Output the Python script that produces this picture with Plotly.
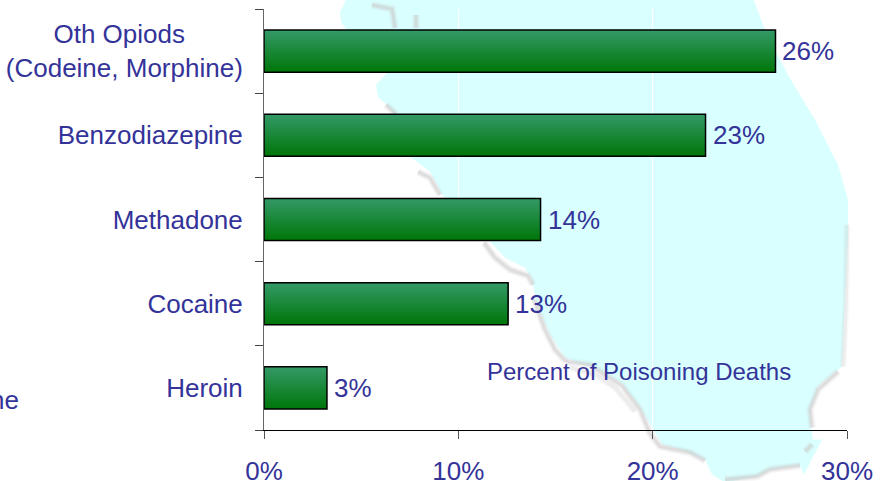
import plotly.graph_objects as go

categories = ["Heroin", "Cocaine", "Methadone", "Benzodiazepine",
              "Oth Opiods" + "\u00a0" * 8 + "<br>(Codeine, Morphine)"]
values = [3.24, 12.56, 14.23, 22.72, 26.32]
value_labels = ["3%", "13%", "14%", "23%", "26%"]
x_ticks = [0, 10, 20, 30]
x_tick_labels = ["0%", "10%", "20%", "30%"]

W, H = 885, 481
L, R, T, B = 264, 847, 9, 430.5
TEXT = "#333399"
FONT = "Liberation Sans, Arial, sans-serif"


def px(x):
    return (x - L) / (R - L)


def py(y):
    return (B - y) / (B - T)


def path(points, close=False):
    s = "M " + " L ".join(f"{px(x):.4f},{py(y):.4f}" for x, y in points)
    return s + (" Z" if close else "")


land = [(347, -2), (340, 12), (341, 22), (346, 29), (372, 60), (387, 73), (376, 85), (378, 97), (386, 104),
        (398, 120), (410, 157), (430, 172), (442, 195), (470, 228), (490, 242), (505, 258), (525, 268),
        (531, 278), (537, 305), (550, 335), (565, 358), (580, 364), (600, 371), (622, 384), (640, 408),
        (652, 428), (662, 445), (680, 450), (705, 460), (712, 475), (725, 483), (757, 477), (770, 470),
        (800, 466), (804, 475), (822, 440), (813, 440), (811, 427), (810, 410), (818, 387), (842, 367),
        (845, 300), (848, 240), (848, 200), (838, 165), (815, 120), (788, 75), (765, 30), (753, -2)]

coasts = [
    [(372, 5), (392, 9), (395, 28)],
    [(416, 15), (416, 28)],
    [(386, 105), (396, 114)],
    [(418, 172), (430, 178), (440, 195)],
    [(484, 243), (495, 258), (510, 270), (528, 276), (533, 285)],
    [(534, 300), (545, 330), (555, 350), (566, 362)],
    [(566, 362), (590, 365), (603, 374), (622, 386), (640, 410), (650, 434), (660, 447), (690, 453), (705, 461)],
    [(725, 480), (757, 477), (770, 470), (800, 466)],
    [(805, 452), (812, 445)],
    [(838, 372), (818, 390), (810, 410), (812, 428)],
]
faint_coasts = [
    [(847, 225), (846, 300), (843, 367)],
    [(570, 368), (595, 375), (615, 388), (635, 412)],
]

shapes = [dict(type="path", xref="paper", yref="paper", path=path(land, True),
               fillcolor="#d9ffff", line=dict(width=0), layer="below")]
for c in faint_coasts:
    for w, col in ((7, "rgba(205,202,202,0.12)"), (4, "rgba(205,202,202,0.25)")):
        shapes.append(dict(type="path", xref="paper", yref="paper", path=path(c),
                           line=dict(color=col, width=w), layer="below"))
for c in coasts:
    for w, col in ((8, "rgba(205,202,202,0.14)"), (5.5, "rgba(205,202,202,0.22)"), (3, "rgba(205,202,202,0.45)")):
        shapes.append(dict(type="path", xref="paper", yref="paper", path=path(c),
                           line=dict(color=col, width=w), layer="below"))

fig = go.Figure()
bar_w = 0.5
n = 21
h = bar_w / n
top, bottom = (0x33, 0x99, 0x66), (0x00, 0x77, 0x0a)
for i in range(n):
    t = i / (n - 1)
    col = tuple(round(bottom[k] + (top[k] - bottom[k]) * t) for k in range(3))
    fig.add_trace(go.Bar(y=categories, x=values, orientation="h",
                         width=bar_w - i * h, offset=-bar_w / 2 + i * h,
                         marker=dict(color=f"rgb{col}", line=dict(width=0)),
                         hoverinfo="skip", showlegend=False))

fig.add_trace(go.Bar(y=categories, x=values, orientation="h", width=bar_w, offset=-bar_w / 2,
                     marker=dict(color="rgba(0,0,0,0)", line=dict(color="#000000", width=1.5)),
                     showlegend=False))

annotations = [
    dict(text="Percent of Poisoning Deaths", xref="paper", yref="paper", x=px(638.5), y=py(372),
         xanchor="center", yanchor="middle", showarrow=False, font=dict(size=24, color=TEXT, family=FONT)),
    dict(text="ne", xref="paper", yref="paper", x=px(-12), y=py(400),
         xanchor="left", yanchor="middle", showarrow=False, font=dict(size=26, color=TEXT, family=FONT)),
]
for cat, val, lab in zip(categories, values, value_labels):
    annotations.append(dict(text=lab, x=val, y=cat, xref="x", yref="y", xanchor="left", yanchor="middle",
                            xshift=5, yshift=0, showarrow=False, font=dict(size=26, color=TEXT, family=FONT)))

fig.update_layout(
    width=W, height=H, autosize=False,
    margin=dict(l=L, r=W - R, t=T, b=H - B, autoexpand=False),
    paper_bgcolor="white", plot_bgcolor="rgba(0,0,0,0)",
    barmode="overlay", shapes=shapes, showlegend=False, annotations=annotations,
    font=dict(family=FONT, color=TEXT, size=26),
    xaxis=dict(range=[0, 30], tickvals=x_ticks, ticktext=x_tick_labels, ticks="outside", ticklen=8,
               tickcolor="#555555", tickwidth=1, showline=True, linecolor="#000000", linewidth=1,
               showgrid=True, gridcolor="#ffffff", gridwidth=1, zeroline=False, ticklabelstandoff=10,
               tickfont=dict(size=26, color=TEXT, family=FONT), automargin=False),
    yaxis=dict(type="category", categoryorder="array", categoryarray=categories, range=[-0.5, 4.5],
               tickson="boundaries", ticks="outside", ticklen=8, tickcolor="#444444", tickwidth=1,
               showline=True, linecolor="#666666", linewidth=1, showgrid=False, zeroline=False,
               ticklabelstandoff=15, tickfont=dict(size=26, color=TEXT, family=FONT), automargin=False),
)
fig.write_html("out.html", config=dict(displayModeBar=False),
               post_script="document.body.style.margin='0';document.documentElement.style.overflow='hidden';")
